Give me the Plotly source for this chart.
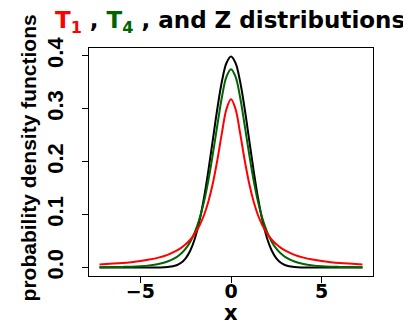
import plotly.graph_objects as go

x_vals = [-7.25, -6.5, -6, -5.5, -5, -4.5, -4, -3.5, -3, -2.75, -2.5, -2.25, -2, -1.75, -1.5, -1.25, -1, -0.75, -0.5, -0.25,
          0, 0.25, 0.5, 0.75, 1, 1.25, 1.5, 1.75, 2, 2.25, 2.5, 2.75, 3, 3.5, 4, 4.5, 5, 5.5, 6, 6.5, 7.25]

t1_vals = [0.0059, 0.0074, 0.0086, 0.0102, 0.0122, 0.0150, 0.0187, 0.0240, 0.0318, 0.0372, 0.0439, 0.0525, 0.0637, 0.0784,
           0.0979, 0.1242, 0.1592, 0.2037, 0.2546, 0.2996,
           0.3183, 0.2996, 0.2546, 0.2037, 0.1592, 0.1242, 0.0979, 0.0784, 0.0637, 0.0525, 0.0439, 0.0372, 0.0318,
           0.0240, 0.0187, 0.0150, 0.0122, 0.0102, 0.0086, 0.0074, 0.0059]

t4_vals = [0.0005, 0.0008, 0.0012, 0.0017, 0.0026, 0.0041, 0.0067, 0.0113, 0.0197, 0.0264, 0.0357, 0.0485, 0.0663, 0.0905,
           0.1229, 0.1644, 0.2147, 0.2699, 0.3223, 0.3607,
           0.3750, 0.3607, 0.3223, 0.2699, 0.2147, 0.1644, 0.1229, 0.0905, 0.0663, 0.0485, 0.0357, 0.0264, 0.0197,
           0.0113, 0.0067, 0.0041, 0.0026, 0.0017, 0.0012, 0.0008, 0.0005]

z_vals = [0.0000, 0.0000, 0.0000, 0.0000, 0.0000, 0.0000, 0.0001, 0.0009, 0.0044, 0.0091, 0.0175, 0.0317, 0.0540, 0.0863,
          0.1295, 0.1826, 0.2420, 0.3011, 0.3521, 0.3867,
          0.3989, 0.3867, 0.3521, 0.3011, 0.2420, 0.1826, 0.1295, 0.0863, 0.0540, 0.0317, 0.0175, 0.0091, 0.0044,
          0.0009, 0.0001, 0.0000, 0.0000, 0.0000, 0.0000, 0.0000, 0.0000]

x_ticks = [-5, 0, 5]
x_tick_text = ["\u22125", "0", "5"]
y_ticks = [0.0, 0.1, 0.2, 0.3, 0.4]
y_tick_text = ["0.0", "0.1", "0.2", "0.3", "0.4"]

FONT = "Liberation Sans, Arial, sans-serif"
WIDE = "DejaVu Sans, Liberation Sans, sans-serif"
NARROW = "Liberation Sans Narrow, Liberation Sans, sans-serif"

fig = go.Figure()
fig.add_trace(go.Scatter(x=x_vals, y=z_vals, mode="lines", line=dict(color="black", width=2, shape="spline"), showlegend=False))
fig.add_trace(go.Scatter(x=x_vals, y=t4_vals, mode="lines", line=dict(color="#006400", width=2, shape="spline"), showlegend=False))
fig.add_trace(go.Scatter(x=x_vals, y=t1_vals, mode="lines", line=dict(color="red", width=2, shape="spline"), showlegend=False))

fig.update_layout(
    width=403, height=319,
    margin=dict(l=81, r=38, t=40, b=51, autoexpand=False),
    paper_bgcolor="white", plot_bgcolor="white",
    font=dict(family=FONT, color="black"),
    title=dict(
        text="<b><span style='color:red'>T<sub>1</sub></span> , <span style='color:#006400'>T<sub>4</sub></span> , and Z distributions</b>",
        x=0.551, xanchor="center", y=0.962, yanchor="middle",
        font=dict(size=23, family=WIDE, color="black"),
    ),
    xaxis=dict(
        range=[-7.83, 7.83], tickvals=x_ticks, ticktext=x_tick_text,
        ticks="outside", ticklen=6, tickcolor="black", tickwidth=1,
        showline=True, linecolor="black", linewidth=1, mirror=True,
        showgrid=False, zeroline=False, automargin=False,
        tickfont=dict(size=19, family=WIDE, weight="bold"),
        ticklabelstandoff=-8,
    ),
    yaxis=dict(
        range=[-0.016, 0.415], tickvals=y_ticks, ticktext=y_tick_text,
        ticks="outside", ticklen=6, tickcolor="black", tickwidth=1, tickangle=-90,
        showline=True, linecolor="black", linewidth=1, mirror=True,
        showgrid=False, zeroline=False, automargin=False,
        tickfont=dict(size=22, family=NARROW, weight="bold"),
        ticklabelstandoff=10,
    ),
    annotations=[
        dict(text="<b>x</b>", xref="paper", yref="paper", x=0.5, y=-0.2237, xanchor="center", yanchor="bottom",
             showarrow=False, font=dict(size=21, family=WIDE)),
        dict(text="<b>probability density functions</b>", xref="paper", yref="paper", x=-0.215, y=0.52,
             xanchor="center", yanchor="middle", textangle=-90, showarrow=False, font=dict(size=21, family=NARROW)),
    ],
)

fig.write_html("out.html")
